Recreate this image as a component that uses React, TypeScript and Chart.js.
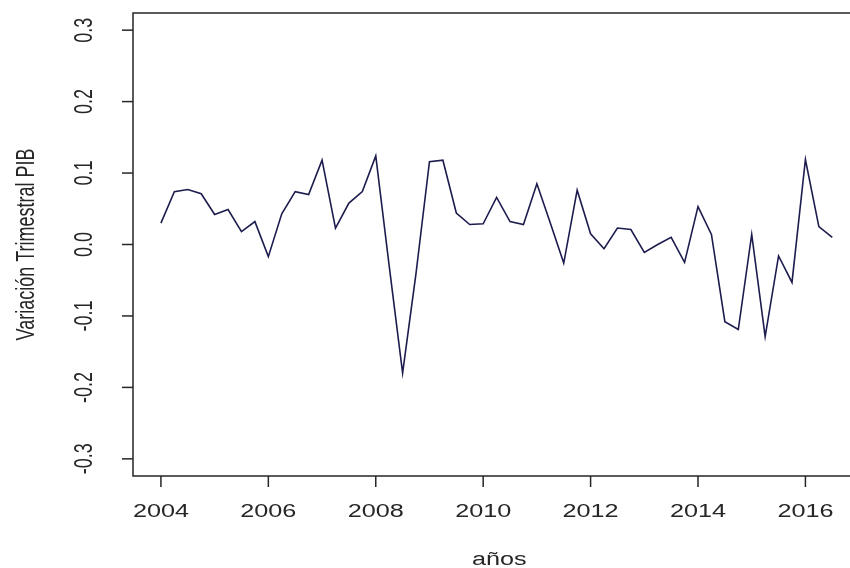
import React, { useEffect, useRef } from "react";
import { Chart, registerables } from "chart.js";
Chart.register(...registerables);

const startYear = 2004;
const values = [
  0.030, 0.074, 0.077, 0.071, 0.042, 0.049, 0.018, 0.032, -0.017, 0.043, 0.074, 0.070,
  0.118, 0.023, 0.058, 0.074, 0.124, -0.030, -0.180, -0.040, 0.116, 0.118, 0.044, 0.028,
  0.029, 0.066, 0.032, 0.028, 0.085, 0.030, -0.026, 0.076, 0.015, -0.006, 0.023, 0.021,
  -0.011, 0.000, 0.010, -0.025, 0.053, 0.014, -0.108, -0.119, 0.014, -0.129, -0.016, -0.053,
  0.119, 0.025, 0.010,
];
const xTicks = [2004, 2006, 2008, 2010, 2012, 2014, 2016];
const yTicks = [-0.3, -0.2, -0.1, 0.0, 0.1, 0.2, 0.3];
const yLabels = ["-0.3", "-0.2", "-0.1", "0.0", "0.1", "0.2", "0.3"];

const FONT = '18px "Liberation Sans", Arial, sans-serif';
const INK = "#262626";
const SX = 1.4;

function wideText(ctx: any, text: string, x: number, y: number, rotate: boolean) {
  ctx.save();
  ctx.translate(x, y);
  ctx.scale(SX, 1);
  if (rotate) ctx.rotate(-Math.PI / 2);
  ctx.fillText(text, 0, 0);
  ctx.restore();
}

const axesPlugin = {
  id: "rAxes",
  afterDraw(chart: any) {
    const { ctx, chartArea: a, scales } = chart;
    const xs = scales.x, ys = scales.y;
    ctx.save();
    ctx.strokeStyle = INK;
    ctx.lineWidth = 1.5;
    ctx.beginPath();
    ctx.moveTo(a.right + 2, a.top);
    ctx.lineTo(a.left, a.top);
    ctx.lineTo(a.left, a.bottom);
    ctx.lineTo(a.right + 2, a.bottom);
    ctx.stroke();
    ctx.fillStyle = INK;
    ctx.font = FONT;
    ctx.textAlign = "center";
    ctx.textBaseline = "middle";
    xTicks.forEach((t) => {
      const px = xs.getPixelForValue(t);
      ctx.beginPath();
      ctx.moveTo(px, a.bottom);
      ctx.lineTo(px, a.bottom + 11);
      ctx.stroke();
      wideText(ctx, String(t), px, a.bottom + 36, false);
    });
    yTicks.forEach((t, i) => {
      const py = ys.getPixelForValue(t);
      ctx.beginPath();
      ctx.moveTo(a.left, py);
      ctx.lineTo(a.left - 11, py);
      ctx.stroke();
      wideText(ctx, yLabels[i], a.left - 48, py, true);
    });
    wideText(ctx, "años", xs.getPixelForValue(2010.3), a.bottom + 84, false);
    wideText(ctx, "Variación Trimestral PIB", 27, (a.top + a.bottom) / 2, true);
    ctx.restore();
  },
};

export default function App() {
  const ref = useRef<HTMLCanvasElement>(null);
  useEffect(() => {
    document.body.style.margin = "0";
    const data = values.map((v, i) => ({ x: startYear + i / 4, y: v }));
    const chart = new Chart(ref.current!, {
      type: "line",
      data: {
        datasets: [
          {
            data,
            borderColor: "#1c1c4e",
            borderWidth: 1.6,
            pointRadius: 0,
            tension: 0,
            fill: false,
          },
        ],
      },
      options: {
        animation: false,
        responsive: false,
        events: [],
        layout: { padding: { left: 133, top: 13, right: 0, bottom: 92 } },
        plugins: { legend: { display: false }, tooltip: { enabled: false } },
        scales: {
          x: { type: "linear", min: 2003.48, max: 2016.83, display: false },
          y: { type: "linear", min: -0.324, max: 0.324, display: false },
        },
      },
      plugins: [axesPlugin],
    });
    return () => chart.destroy();
  }, []);
  return (
    <div style={{ width: 850, height: 568, background: "#fff" }}>
      <canvas ref={ref} width={850} height={568} />
    </div>
  );
}
